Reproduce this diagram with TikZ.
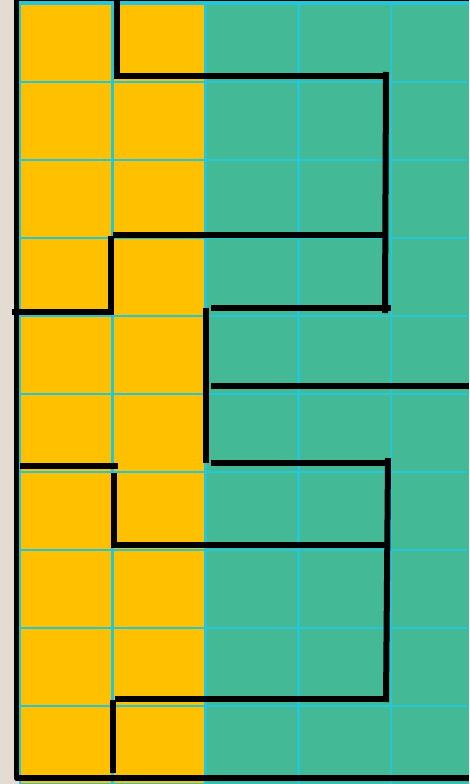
\documentclass[tikz,border=0pt]{standalone}
\usepackage{xcolor}
\usepackage{tikz}
\usetikzlibrary{positioning}
\definecolor{paper}{HTML}{E3DCD2}
\definecolor{plotA}{HTML}{FFC000}
\definecolor{plotB}{HTML}{44B995}
\definecolor{gridline}{HTML}{26C6D6}

\begin{document}
\begin{tikzpicture}[x=1pt,y=-1pt,
    wall/.style={line width=6pt,black},
    border/.style={line width=5.6pt,black,line join=round},
    gridl/.style={line width=2.4pt,gridline}]
  \useasboundingbox (0,0) rectangle (469,784);
  \fill[paper] (0,0) rectangle (469,784);
  % the two plots
  \fill[plotA] (19,2) rectangle (205.5,784);
  \fill[plotB] (205.5,2) rectangle (469,784);
  % grid
  \foreach \gx in {19.8,112.5,205.5,298.5,391} {
    \draw[gridl] (\gx,2) -- (\gx,784);
  }
  \foreach \gy in {82,160,238,316,394,472,550,628,706,784} {
    \draw[gridl] (19,\gy) -- (469,\gy);
  }
  \draw[gridline,line width=3.6pt] (19,3.2) -- (469,3.2);
  \draw[black,line width=1.4pt] (19,0.7) -- (469,0.7);
  % outer border
  \draw[border] (16.3,0) -- (16.3,778) -- (469,778);
  % walls
  \draw[wall] (117,0) -- (117,76) -- (383,76);
  \draw[wall] (386,72) -- (385,313);
  \draw[wall] (113,234.5) -- (384,234.5);
  \draw[wall] (12,312) -- (111,312) -- (111,236);
  \draw[wall] (211,308) -- (390.5,308);
  \draw[wall] (205.7,308) -- (205.7,463);
  \draw[wall] (211,386) -- (469,386);
  \draw[wall] (211,463) -- (391,463);
  \draw[wall] (388,458) -- (386,702);
  \draw[wall] (20,466) -- (118,466);
  \draw[wall] (113.5,473) -- (113.5,545) -- (386,545);
  \draw[wall] (115,699) -- (389,699);
  \draw[wall] (113,700) -- (113,773);
\end{tikzpicture}
\end{document}
